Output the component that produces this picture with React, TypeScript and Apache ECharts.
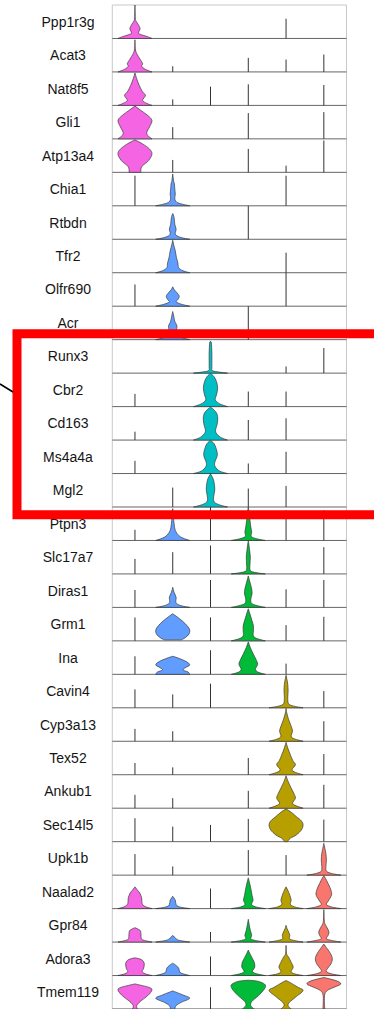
import React, { useEffect, useRef } from "react";
import * as echarts from "echarts";

// Marker genes, top to bottom (one panel row each)
const genes = [
  "Ppp1r3g", "Acat3", "Nat8f5", "Gli1", "Atp13a4",
  "Chia1", "Rtbdn", "Tfr2", "Olfr690", "Acr",
  "Runx3", "Cbr2", "Cd163", "Ms4a4a", "Mgl2",
  "Ptpn3", "Slc17a7", "Diras1", "Grm1", "Ina",
  "Cavin4", "Cyp3a13", "Tex52", "Ankub1", "Sec14l5",
  "Upk1b", "Naalad2", "Gpr84", "Adora3", "Tmem119",
];

const clusterColors = ["#F564E3", "#619CFF", "#00BFC4", "#00BA38", "#B79F00", "#F8766D"];

// Each entry is a gene's violin in that cluster:
//  null   -> no expressing cells
//  number -> only a few cells: a bare line up to that fraction of the row's max
//  list   -> density outline as [fraction of row max, relative half width]
type Violin = null | number | [number, number][];

const cluster1: Violin[] = [
  [[0, 1], [0.06, 0.7], [0.125, 0.3], [0.17, 0.2], [0.29, 0.3], [0.41, 0.2], [0.53, 0.05], [0.62, 0.02], [1, 0]],
  [[0, 1], [0.08, 0.6], [0.17, 0.4], [0.25, 0.45], [0.38, 0.3], [0.55, 0.1], [0.7, 0.02], [0.96, 0]],
  [[0, 1], [0.06, 0.7], [0.15, 0.45], [0.3, 0.62], [0.4, 0.45], [0.6, 0.25], [0.8, 0.1], [0.97, 0]],
  [[0, 1], [0.1, 0.75], [0.2, 0.7], [0.35, 0.85], [0.55, 1], [0.7, 0.75], [0.85, 0.35], [0.98, 0]],
  [[0, 0.35], [0.1, 0.35], [0.2, 0.45], [0.35, 0.8], [0.55, 1], [0.7, 0.85], [0.85, 0.45], [0.97, 0]],
  0.9, null, null, 0.65, null,
  null, 0.38, 0.25, 0.38, null,
  0.32, 0.45, 0.52, 0.7, 0.54,
  0.55, 0.37, 0.35, 0.4, 0.7,
  0.63,
  [[0, 1], [0.06, 0.6], [0.15, 0.42], [0.3, 0.4], [0.45, 0.3], [0.55, 0.15], [0.65, 0]],
  [[0, 1], [0.05, 0.55], [0.1, 0.38], [0.25, 0.35], [0.35, 0.3], [0.43, 0]],
  [[0, 1], [0.05, 0.6], [0.12, 0.42], [0.2, 0.5], [0.35, 0.55], [0.45, 0.45], [0.5, 0.25], [0.53, 0]],
  [[0, 0.15], [0.1, 0.1], [0.22, 0.3], [0.4, 0.75], [0.57, 1], [0.65, 0.8], [0.75, 0]],
];

const cluster2: Violin[] = [
  null, 0.17, 0.18, 0.35, 0.37,
  [[0, 1], [0.05, 0.55], [0.1, 0.25], [0.2, 0.12], [0.35, 0.15], [0.5, 0.12], [0.65, 0.1], [0.75, 0.05], [0.95, 0]],
  [[0, 1], [0.05, 0.5], [0.12, 0.2], [0.2, 0.15], [0.3, 0.2], [0.45, 0.12], [0.65, 0.08], [0.77, 0]],
  [[0, 1], [0.06, 0.6], [0.15, 0.35], [0.3, 0.3], [0.45, 0.22], [0.65, 0.15], [0.85, 0.05], [0.97, 0]],
  [[0, 1], [0.06, 0.5], [0.13, 0.2], [0.2, 0.3], [0.3, 0.38], [0.4, 0.25], [0.5, 0.08], [0.58, 0]],
  [[0, 1], [0.06, 0.55], [0.13, 0.25], [0.25, 0.2], [0.4, 0.25], [0.55, 0.12], [0.7, 0.06], [0.84, 0]],
  null, null, null, null, 0.58,
  [[0, 1], [0.07, 0.6], [0.15, 0.35], [0.3, 0.15], [0.5, 0.08], [0.7, 0.04], [0.95, 0]],
  0.65,
  [[0, 1], [0.05, 0.5], [0.12, 0.22], [0.2, 0.18], [0.3, 0.2], [0.45, 0.08], [0.6, 0]],
  [[0.03, 0.5], [0.1, 0.75], [0.2, 0.95], [0.32, 1], [0.45, 0.85], [0.6, 0.55], [0.72, 0.25], [0.81, 0]],
  [[0, 1], [0.07, 0.9], [0.13, 0.6], [0.2, 0.75], [0.28, 1], [0.38, 0.8], [0.48, 0.35], [0.54, 0]],
  0.4, 0.3, 0.22, 0.3, 0.45,
  0.26,
  [[0, 1], [0.05, 0.4], [0.12, 0.2], [0.25, 0.15], [0.37, 0]],
  [[0, 1], [0.05, 0.4], [0.1, 0.2], [0.2, 0]],
  [[0, 1], [0.06, 0.55], [0.12, 0.4], [0.22, 0.35], [0.3, 0.2], [0.37, 0]],
  [[0, 0.12], [0.1, 0.2], [0.2, 0.5], [0.32, 1], [0.42, 0.6], [0.54, 0]],
];

const cluster3: Violin[] = [
  null, null, 0.56, null, null,
  null, null, null, null, null,
  [[0, 1], [0.04, 0.4], [0.08, 0.1], [0.2, 0.08], [0.6, 0.08], [0.9, 0.05], [0.95, 0]],
  [[0, 1], [0.08, 0.55], [0.2, 0.28], [0.35, 0.35], [0.55, 0.42], [0.75, 0.35], [0.9, 0.2], [0.99, 0]],
  [[0, 1], [0.08, 0.6], [0.2, 0.35], [0.3, 0.3], [0.5, 0.4], [0.7, 0.42], [0.85, 0.3], [0.99, 0]],
  [[0, 1], [0.07, 0.55], [0.2, 0.28], [0.33, 0.25], [0.55, 0.4], [0.75, 0.33], [0.9, 0.2], [0.99, 0]],
  [[0, 1], [0.06, 0.55], [0.15, 0.22], [0.3, 0.18], [0.5, 0.25], [0.7, 0.22], [0.85, 0.15], [0.99, 0]],
  1.0, 0.85, 0.82, 0.7, 0.72,
  0.72, null, null, null, 0.5,
  null, 0.6, 0.3, 0.57, 0.65,
];

const cluster4: Violin[] = [
  null, 0.42, 0.63, 0.77, 0.7,
  null, 1.0, null, null, 1.0,
  null, 0.45, 0.6, 0.3, 0.55,
  [[0, 1], [0.05, 0.5], [0.12, 0.18], [0.25, 0.2], [0.4, 0.15], [0.6, 0.1], [0.8, 0.06], [1, 0]],
  [[0, 1], [0.04, 0.45], [0.1, 0.12], [0.3, 0.1], [0.5, 0.12], [0.7, 0.08], [0.9, 0.03], [1, 0]],
  [[0, 1], [0.05, 0.55], [0.12, 0.2], [0.25, 0.15], [0.4, 0.22], [0.55, 0.2], [0.75, 0.1], [0.94, 0]],
  [[0, 1], [0.07, 0.5], [0.15, 0.3], [0.3, 0.3], [0.45, 0.3], [0.6, 0.22], [0.8, 0.1], [0.96, 0]],
  [[0, 1], [0.06, 0.6], [0.15, 0.42], [0.3, 0.55], [0.45, 0.45], [0.6, 0.3], [0.8, 0.12], [0.97, 0]],
  null, null, 0.5, 0.52, 0.68,
  0.75,
  [[0, 1], [0.05, 0.45], [0.12, 0.2], [0.25, 0.28], [0.4, 0.22], [0.6, 0.15], [0.8, 0.06], [0.92, 0]],
  [[0, 1], [0.05, 0.4], [0.1, 0.15], [0.2, 0.2], [0.35, 0.12], [0.5, 0.06], [0.68, 0]],
  [[0, 1], [0.05, 0.5], [0.12, 0.25], [0.25, 0.38], [0.4, 0.35], [0.55, 0.2], [0.7, 0.05], [0.76, 0]],
  [[0, 0.35], [0.1, 0.15], [0.22, 0.2], [0.4, 0.6], [0.6, 0.95], [0.72, 1], [0.8, 0.75], [0.84, 0.45], [0.86, 0]],
];

const cluster5: Violin[] = [
  0.59, 0.37, null, null, 0.2,
  0.9, null, 0.6, 1.0, null,
  0.2, 0.45, 0.65, 0.65, 0.63,
  0.9, null, 0.54, 0.47, 0.32,
  [[0, 1], [0.05, 0.45], [0.12, 0.15], [0.3, 0.1], [0.5, 0.12], [0.7, 0.1], [0.85, 0.05], [0.97, 0]],
  [[0, 1], [0.07, 0.5], [0.15, 0.3], [0.3, 0.38], [0.45, 0.3], [0.65, 0.15], [0.85, 0.04], [0.98, 0]],
  [[0, 1], [0.07, 0.55], [0.15, 0.35], [0.3, 0.55], [0.42, 0.4], [0.6, 0.25], [0.8, 0.1], [0.97, 0]],
  [[0, 1], [0.07, 0.6], [0.15, 0.38], [0.3, 0.55], [0.45, 0.45], [0.6, 0.3], [0.8, 0.12], [0.97, 0]],
  [[0, 0.08], [0.1, 0.25], [0.2, 0.6], [0.35, 0.9], [0.5, 1], [0.62, 0.9], [0.75, 0.6], [0.88, 0.3], [0.98, 0]],
  0.6,
  [[0, 1], [0.05, 0.5], [0.13, 0.25], [0.25, 0.3], [0.4, 0.22], [0.55, 0.1], [0.65, 0]],
  [[0, 1], [0.05, 0.45], [0.1, 0.2], [0.2, 0.22], [0.3, 0.15], [0.4, 0.06], [0.5, 0]],
  [[0, 1], [0.05, 0.5], [0.12, 0.3], [0.25, 0.42], [0.4, 0.3], [0.55, 0.15], [0.65, 0.03], [0.9, 0]],
  [[0, 0.3], [0.1, 0.12], [0.2, 0.2], [0.35, 0.55], [0.55, 1], [0.65, 0.7], [0.8, 0.2], [0.85, 0]],
];

const cluster6: Violin[] = [
  null, 0.52, 0.61, 0.8, 0.95,
  null, null, null, null, null,
  0.75, null, null, null, null,
  0.9, 0.8, 0.82, 0.72, null,
  0.5, 0.6, 0.62, 0.7, 0.66,
  [[0, 1], [0.05, 0.45], [0.12, 0.15], [0.25, 0.12], [0.45, 0.15], [0.65, 0.12], [0.8, 0.06], [0.95, 0]],
  [[0, 1], [0.05, 0.45], [0.12, 0.15], [0.22, 0.25], [0.4, 0.45], [0.55, 0.42], [0.75, 0.25], [0.9, 0.1], [0.98, 0]],
  [[0, 1], [0.05, 0.45], [0.1, 0.15], [0.2, 0.25], [0.3, 0.3], [0.42, 0.2], [0.55, 0.06], [0.7, 0.02], [0.97, 0]],
  [[0, 1], [0.05, 0.45], [0.12, 0.15], [0.2, 0.2], [0.35, 0.42], [0.5, 0.5], [0.65, 0.4], [0.8, 0.2], [0.94, 0]],
  [[0, 0.05], [0.4, 0.04], [0.55, 0.2], [0.65, 0.6], [0.75, 1], [0.85, 0.7], [0.94, 0]],
];

const clusters = [cluster1, cluster2, cluster3, cluster4, cluster5, cluster6];

// Violin max half width, in category units (ggplot's default width 0.9)
const HALF = 0.45;

type Entry = { c: number; row: number; shape: Exclude<Violin, null> };

const entries: Entry[] = [];
clusters.forEach((list, ci) => {
  list.forEach((shape, row) => {
    if (shape !== null) entries.push({ c: ci + 1, row, shape });
  });
});

// Smooth curve through the outline points (Catmull-Rom as cubic Beziers)
function curveThrough(pts: number[][]): string {
  let d = "";
  for (let i = 0; i < pts.length - 1; i++) {
    const p0 = pts[i - 1] || pts[i];
    const p1 = pts[i];
    const p2 = pts[i + 1];
    const p3 = pts[i + 2] || pts[i + 1];
    const c1x = p1[0] + (p2[0] - p0[0]) / 6;
    const c1y = p1[1] + (p2[1] - p0[1]) / 6;
    const c2x = p2[0] - (p3[0] - p1[0]) / 6;
    const c2y = p2[1] - (p3[1] - p1[1]) / 6;
    d += `C${c1x.toFixed(2)},${c1y.toFixed(2)} ${c2x.toFixed(2)},${c2y.toFixed(2)} ${p2[0].toFixed(2)},${p2[1].toFixed(2)}`;
  }
  return d;
}

export default function App() {
  const ref = useRef<HTMLDivElement>(null);

  useEffect(() => {
    document.body.style.margin = "0";
    if (!ref.current) return;
    const chart = echarts.init(ref.current, undefined, { renderer: "svg" });

    const option: echarts.EChartsOption = {
      animation: false,
      backgroundColor: "#ffffff",
      grid: {
        left: 112.3,
        top: 5,
        width: 234.2,
        height: 1005,
        show: true,
        borderColor: "#c8c8c8",
        borderWidth: 1,
        backgroundColor: "transparent",
      },
      xAxis: { type: "value", min: 0.4, max: 6.6, show: false },
      yAxis: [
        { type: "value", min: 0, max: genes.length, inverse: true, show: false, position: "left" },
        {
          type: "category",
          data: genes,
          inverse: true,
          position: "left",
          axisLine: { show: false },
          axisTick: { show: false },
          splitLine: { show: false },
          axisLabel: {
            margin: 44.3,
            align: "center",
            fontSize: 14,
            fontFamily: "'Liberation Sans', Arial, sans-serif",
            color: "#151515",
          },
        },
      ],
      series: [
        {
          // bottom axis line of every row panel
          type: "custom",
          xAxisIndex: 0,
          yAxisIndex: 0,
          silent: true,
          z: 1,
          data: genes.map((_, i) => [0.4, i + 1]),
          renderItem: (params: any, api: any) => {
            const y = params.dataIndex + 1;
            const a = api.coord([0.4, y]);
            const b = api.coord([6.6, y]);
            return {
              type: "line",
              shape: { x1: a[0], y1: a[1], x2: b[0], y2: b[1] },
              style: { stroke: "#666666", lineWidth: 1 },
            };
          },
        },
        {
          type: "custom",
          xAxisIndex: 0,
          yAxisIndex: 0,
          silent: true,
          z: 2,
          data: entries.map((e) => [e.c, e.row + 1]),
          renderItem: (params: any, api: any) => {
            const e = entries[params.dataIndex];
            const base = e.row + 1;
            if (typeof e.shape === "number") {
              const a = api.coord([e.c, base]);
              const b = api.coord([e.c, base - e.shape]);
              return {
                type: "line",
                shape: { x1: a[0], y1: a[1], x2: b[0], y2: b[1] },
                style: { stroke: "#333333", lineWidth: 1 },
              };
            }
            const prof = e.shape;
            const left = prof.map(([f, w]) => api.coord([e.c - HALF * w, base - f]));
            const right = prof
              .slice()
              .reverse()
              .map(([f, w]) => api.coord([e.c + HALF * w, base - f]));
            const d =
              `M${left[0][0].toFixed(2)},${left[0][1].toFixed(2)}` +
              curveThrough(left) +
              `L${right[0][0].toFixed(2)},${right[0][1].toFixed(2)}` +
              curveThrough(right) +
              "Z";
            return {
              type: "path",
              shape: { pathData: d },
              style: {
                fill: clusterColors[e.c - 1],
                stroke: "#3a3a3a",
                lineWidth: 0.7,
              },
            };
          },
        },
      ],
      graphic: [
        {
          type: "rect",
          z: 100,
          silent: true,
          shape: { x: 17, y: 333.7, width: 390, height: 181 },
          style: { fill: "none", stroke: "#ff0000", lineWidth: 9 },
        },
        {
          type: "line",
          z: 100,
          silent: true,
          shape: { x1: 0, y1: 384, x2: 13, y2: 392 },
          style: { stroke: "#000000", lineWidth: 1.5 },
        },
      ],
    };

    chart.setOption(option);
    return () => chart.dispose();
  }, []);

  return <div ref={ref} style={{ width: 374, height: 1009 }} />;
}
